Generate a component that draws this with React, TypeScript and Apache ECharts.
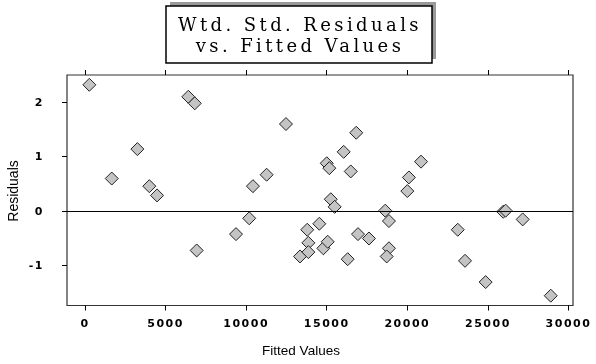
import React, { useEffect, useRef } from "react";
import * as echarts from "echarts";

const fittedValues = [270, 1660, 3250, 3990, 4470, 6410, 6810, 6930, 9370, 10190, 10420, 11270, 12470, 13340, 13790, 13860, 13860, 14540, 14790, 15060, 15000, 15160, 15250, 15490, 16300, 16050, 16490, 16830, 16940, 17620, 18630, 18860, 18860, 18720, 20000, 20100, 20850, 23130, 23580, 24860, 25950, 26100, 27160, 28900];
const residuals = [2.32, 0.6, 1.14, 0.46, 0.29, 2.1, 1.98, -0.72, -0.42, -0.13, 0.46, 0.67, 1.6, -0.83, -0.34, -0.58, -0.75, -0.23, -0.68, -0.56, 0.88, 0.79, 0.22, 0.08, -0.88, 1.09, 0.73, 1.44, -0.42, -0.5, 0.01, -0.18, -0.68, -0.83, 0.37, 0.62, 0.91, -0.34, -0.91, -1.3, -0.01, 0.01, -0.15, -1.55];
const xTicks = [0, 5000, 10000, 15000, 20000, 25000, 30000];
const yTicks = [-1, 0, 1, 2];
const titleLines = ["Wtd. Std. Residuals", "vs. Fitted Values"];
const xTitle = "Fitted Values";
const yTitle = "Residuals";

export default function App() {
  const ref = useRef<HTMLDivElement>(null);
  useEffect(() => {
    const chart = echarts.init(ref.current!, null, { renderer: "svg" });
    const data = fittedValues.map((x, i) => [x, residuals[i]]);
    const labelFont = { fontFamily: "DejaVu Sans", fontWeight: "bold" as const, fontSize: 11, color: "#000" };
    const tick = { show: true, length: 5, inside: false, lineStyle: { color: "#000", width: 1 } };
    const hiddenLine = { show: false, onZero: false };
    chart.setOption({
      animation: false,
      grid: { left: 67, right: 23, top: 75, bottom: 58.5, show: true, borderColor: "#333", borderWidth: 1.2, backgroundColor: "transparent" },
      xAxis: [
        {
          type: "value", position: "bottom", min: -1117, max: 30280,
          axisLine: hiddenLine, splitLine: { show: false },
          axisTick: { ...tick, customValues: xTicks },
          axisLabel: { ...labelFont, customValues: xTicks, margin: 12, formatter: (v: number) => String(v) },
        },
        {
          type: "value", position: "top", min: -1117, max: 30280,
          axisLine: hiddenLine, splitLine: { show: false },
          axisTick: { ...tick, customValues: xTicks },
          axisLabel: { show: true, customValues: xTicks, formatter: () => "" },
        },
      ],
      yAxis: {
        type: "value", position: "left", min: -1.73, max: 2.5,
        axisLine: hiddenLine, splitLine: { show: false },
        axisTick: { ...tick, customValues: yTicks },
        axisLabel: { ...labelFont, customValues: yTicks, margin: 23, formatter: (v: number) => String(v) },
      },
      series: [
        {
          type: "scatter",
          xAxisIndex: 0,
          data,
          symbol: "diamond",
          symbolSize: 13,
          itemStyle: { color: "#c4c4c4", borderColor: "#222", borderWidth: 1, opacity: 1 },
          markLine: {
            silent: true,
            symbol: ["none", "none"],
            label: { show: false },
            lineStyle: { color: "#000", type: "solid", width: 1 },
            data: [{ yAxis: 0 }],
          },
        },
        {
          type: "scatter",
          xAxisIndex: 1,
          data: [],
        },
      ],
      graphic: [
        { type: "rect", shape: { x: 170, y: 2, width: 266, height: 57 }, style: { fill: "#999" } },
        { type: "rect", shape: { x: 166, y: 6, width: 266, height: 57 }, style: { fill: "#fff", stroke: "#000", lineWidth: 1.5 } },
        { type: "text", x: 300, y: 24, style: { text: titleLines[0], font: "18px 'DejaVu Serif'", fill: "#000", textAlign: "center", textVerticalAlign: "middle" } },
        { type: "text", x: 300, y: 45, style: { text: titleLines[1], font: "18px 'DejaVu Serif'", fill: "#000", textAlign: "center", textVerticalAlign: "middle" } },
        { type: "text", x: 301, y: 350, style: { text: xTitle, font: "13.5px 'Liberation Sans'", fill: "#000", textAlign: "center", textVerticalAlign: "middle" } },
        { type: "text", x: 13, y: 191, rotation: Math.PI / 2, style: { text: yTitle, font: "14px 'Liberation Sans'", fill: "#000", textAlign: "center", textVerticalAlign: "middle" } },
      ],
    });
    return () => chart.dispose();
  }, []);
  return (
    <>
      <style>{`text[style*="DejaVu Serif"]{letter-spacing:3.4px} text[style*="DejaVu Sans"]{letter-spacing:1.5px}`}</style>
      <div ref={ref} style={{ position: "fixed", left: 0, top: 0, width: 596, height: 364 }} />
    </>
  );
}
